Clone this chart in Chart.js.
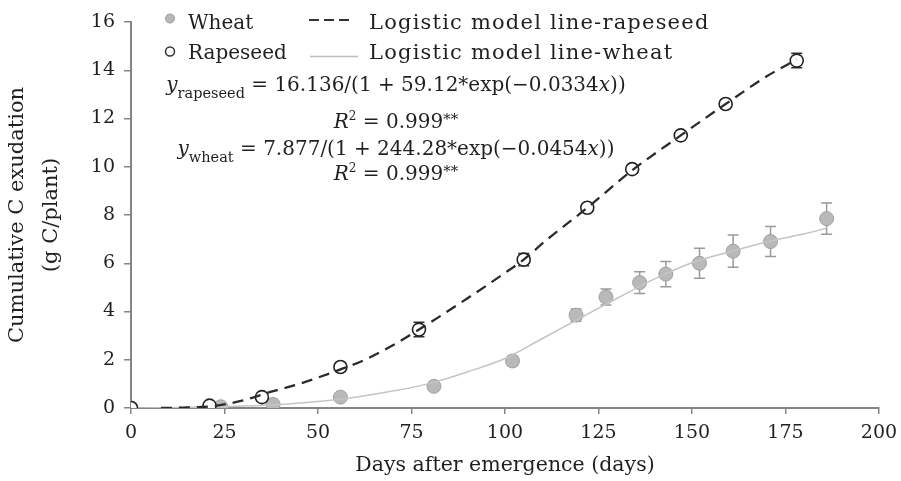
<!DOCTYPE html>
<html><head><meta charset="utf-8">
<script src="https://cdn.jsdelivr.net/npm/chart.js@4.4.1/dist/chart.umd.min.js"></script>
<style>html,body{margin:0;padding:0;background:#fff}#wrap{width:901px;height:481px;position:relative}</style>
</head><body><div id="wrap"><canvas id="c" width="901" height="481"></canvas></div>
<script>
// ---- data ----
const wheatDays = [0, 24, 38, 56, 81, 102, 119, 127, 136, 143, 152, 161, 171, 186];
const wheatC    = [0, 0.05, 0.15, 0.45, 0.9, 1.95, 3.85, 4.6, 5.2, 5.55, 6.0, 6.5, 6.9, 7.85];
const wheatErr  = [0, 0, 0, 0, 0.05, 0.2, 0.25, 0.33, 0.45, 0.52, 0.62, 0.67, 0.62, 0.65];
const rapeDays  = [0, 21, 35, 56, 77, 105, 122, 134, 147, 159, 178];
const rapeC     = [0, 0.1, 0.45, 1.7, 3.25, 6.15, 8.3, 9.9, 11.3, 12.6, 14.4];
const rapeErr   = [0, 0.05, 0.05, 0.15, 0.3, 0.25, 0.1, 0.1, 0.1, 0.1, 0.3];
const rapeModelDays  = [8, 15, 23, 30, 38, 45, 56, 62, 70, 77, 90, 100, 105, 111, 122, 134, 147, 159, 170, 178];
const rapeModelC     = [0, 0.02, 0.1, 0.32, 0.7, 1.0, 1.6, 1.96, 2.6, 3.25, 4.55, 5.6, 6.15, 6.95, 8.3, 9.85, 11.3, 12.6, 13.75, 14.45];
const wheatModelDays = [0, 10, 20, 30, 40, 50, 60, 70, 80, 90, 100, 110, 120, 130, 140, 150, 160, 170, 180, 186];
const wheatModelC    = [0, 0.01, 0.04, 0.08, 0.15, 0.27, 0.45, 0.7, 1.02, 1.5, 2.05, 2.88, 3.72, 4.55, 5.35, 6.02, 6.47, 6.88, 7.22, 7.45];
const xTicks = [0, 25, 50, 75, 100, 125, 150, 175, 200];
const yTicks = [0, 2, 4, 6, 8, 10, 12, 14, 16];
const xTitle = 'Days after emergence (days)';
const yTitle = ['Cumulative C exudation', '(g C/plant)'];
const legendItems = ['Wheat', 'Rapeseed', 'Logistic model line-rapeseed', 'Logistic model line-wheat'];

const FONT = '"DejaVu Serif", serif';
const TXT = '#231f20';
const AXIS = '#858585';

const pts = (xs, ys) => xs.map((v, i) => ({x: v, y: ys[i]}));

const errorBars = {
  id: 'errorBars',
  beforeDatasetsDraw(chart) {
    const {ctx, scales: {x, y}} = chart;
    const draw = (xs, ys, es, col) => {
      ctx.save();
      ctx.strokeStyle = col; ctx.lineWidth = 1.5;
      xs.forEach((d, i) => {
        if (!es[i]) return;
        const px = x.getPixelForValue(d);
        const t = y.getPixelForValue(ys[i] + es[i]);
        const b = y.getPixelForValue(ys[i] - es[i]);
        ctx.beginPath();
        ctx.moveTo(px, t); ctx.lineTo(px, b);
        ctx.moveTo(px - 5.5, t); ctx.lineTo(px + 5.5, t);
        ctx.moveTo(px - 5.5, b); ctx.lineTo(px + 5.5, b);
        ctx.stroke();
      });
      ctx.restore();
    };
    draw(wheatDays, wheatC, wheatErr, '#9a9a9a');
    draw(rapeDays, rapeC, rapeErr, '#333333');
  }
};

function rich(ctx, segs, cx, base) {
  let w = 0;
  segs.forEach(s => { ctx.font = s.f; s.w = ctx.measureText(s.t).width; w += s.w; });
  let xx = cx - w / 2;
  segs.forEach(s => { ctx.font = s.f; ctx.fillText(s.t, xx, base + (s.dy || 0)); xx += s.w; });
}

const annotations = {
  id: 'annotations',
  afterDraw(chart) {
    const ctx = chart.ctx;
    ctx.save();
    ctx.fillStyle = TXT;
    ctx.textAlign = 'left';
    ctx.textBaseline = 'alphabetic';
    // legend markers
    ctx.beginPath(); ctx.arc(170, 18.5, 4.5, 0, Math.PI * 2);
    ctx.fillStyle = '#b8b8b8'; ctx.fill(); ctx.strokeStyle = '#9a9a9a'; ctx.lineWidth = 1; ctx.stroke();
    ctx.beginPath(); ctx.arc(170, 51.5, 4.5, 0, Math.PI * 2);
    ctx.fillStyle = '#fff'; ctx.fill(); ctx.strokeStyle = '#333'; ctx.lineWidth = 1.5; ctx.stroke();
    ctx.beginPath(); ctx.setLineDash([10, 5]); ctx.strokeStyle = '#333'; ctx.lineWidth = 2.2;
    ctx.moveTo(309, 20); ctx.lineTo(351, 20); ctx.stroke();
    ctx.setLineDash([]);
    ctx.beginPath(); ctx.strokeStyle = '#bdbdbd'; ctx.lineWidth = 1.5;
    ctx.moveTo(310, 56.5); ctx.lineTo(358, 56.5); ctx.stroke();
    // legend text
    ctx.fillStyle = TXT;
    ctx.font = '20px ' + FONT;
    ctx.fillText(legendItems[0], 188, 29.3);
    ctx.fillText(legendItems[1], 188, 59.3);
    ctx.font = '21px ' + FONT;
    ctx.letterSpacing = '1.2px';
    ctx.fillText(legendItems[2], 369, 29.3);
    ctx.fillText(legendItems[3], 369, 59.3);
    ctx.letterSpacing = '0px';
    // equations
    const N = '20px ' + FONT, I = 'italic 20px ' + FONT, S = '14.5px ' + FONT;
    const SUP = '12px ' + FONT, ST = '15px ' + FONT;
    rich(ctx, [{t: 'y', f: I}, {t: 'rapeseed', f: S, dy: 6.5},
      {t: ' = 16.136/(1 + 59.12*exp(\u22120.0334', f: N}, {t: 'x', f: I}, {t: '))', f: N}], 396, 91);
    rich(ctx, [{t: 'R', f: I}, {t: '2', f: SUP, dy: -8}, {t: ' = 0.999', f: N}, {t: '**', f: ST, dy: -4}], 396, 128);
    rich(ctx, [{t: 'y', f: I}, {t: 'wheat', f: S, dy: 6.5},
      {t: ' = 7.877/(1 + 244.28*exp(\u22120.0454', f: N}, {t: 'x', f: I}, {t: '))', f: N}], 396, 155);
    rich(ctx, [{t: 'R', f: I}, {t: '2', f: SUP, dy: -8}, {t: ' = 0.999', f: N}, {t: '**', f: ST, dy: -4}], 396, 180);
    ctx.restore();
  }
};

new Chart(document.getElementById('c'), {
  type: 'scatter',
  data: {
    datasets: [
      {label: 'Logistic model line-rapeseed', type: 'line', data: pts(rapeModelDays, rapeModelC),
       borderColor: '#2b2b2b', borderWidth: 2.3, borderDash: [11, 7], pointRadius: 0,
       cubicInterpolationMode: 'monotone', fill: false, order: 1},
      {label: 'Rapeseed', data: pts(rapeDays, rapeC), pointRadius: 6.5, pointBackgroundColor: '#ffffff',
       pointBorderColor: '#222222', pointBorderWidth: 1.6, order: 2},
      {label: 'Logistic model line-wheat', type: 'line', data: pts(wheatModelDays, wheatModelC),
       borderColor: '#c4c4c4', borderWidth: 1.5, pointRadius: 0, cubicInterpolationMode: 'monotone',
       fill: false, order: 3},
      {label: 'Wheat', data: pts(wheatDays, wheatC), pointRadius: 7, pointBackgroundColor: '#b9b9b9',
       pointBorderColor: '#a0a0a0', pointBorderWidth: 1, order: 4}
    ]
  },
  options: {
    responsive: false,
    animation: false,
    layout: {padding: {top: 22, right: 22, left: 0, bottom: 0}},
    plugins: {legend: {display: false}, tooltip: {enabled: false}},
    scales: {
      x: {
        type: 'linear', min: 0, max: 200,
        afterBuildTicks: s => { s.ticks = xTicks.map(v => ({value: v})); },
        afterFit: s => { s.height = 73; s.paddingRight = 0; s.paddingLeft = 0; },
        grid: {display: true, drawOnChartArea: false, drawTicks: true, tickLength: 6, color: AXIS, lineWidth: 1.5},
        border: {display: true, color: AXIS, width: 2},
        ticks: {color: TXT, font: {family: FONT, size: 19}, padding: 8, maxRotation: 0},
        title: {display: true, text: xTitle, color: TXT, font: {family: FONT, size: 20.5, lineHeight: 1.2},
                padding: {top: 0, bottom: 3}}
      },
      y: {
        type: 'linear', min: 0, max: 16,
        afterBuildTicks: s => { s.ticks = yTicks.map(v => ({value: v})); },
        afterFit: s => { s.width = 131; },
        grid: {display: true, drawOnChartArea: false, drawTicks: true, tickLength: 7, color: AXIS, lineWidth: 1.5},
        border: {display: true, color: AXIS, width: 2},
        ticks: {color: TXT, font: {family: FONT, size: 19}, padding: 9},
        title: {display: true, text: yTitle, color: TXT, font: {family: FONT, size: 21, lineHeight: 1.62},
                padding: {top: 1, bottom: 0}}
      }
    }
  },
  plugins: [errorBars, annotations]
});
</script></body></html>
